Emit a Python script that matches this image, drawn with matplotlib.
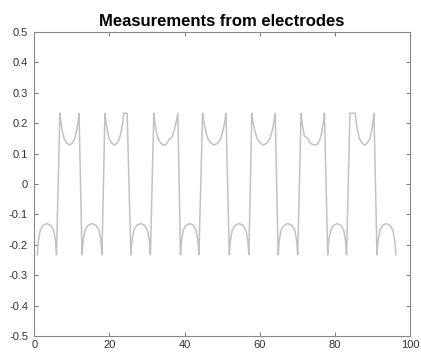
import matplotlib
matplotlib.use("Agg")
from matplotlib import pyplot as plt

# Measured signal, one line per half cycle (x = electrode position, y = value)
x_neg1 = [0.8, 1.06, 1.57, 2.33, 3.35, 4.37, 5.14, 5.65, 5.9]
y_neg1 = [-0.233, -0.188, -0.152, -0.136, -0.13, -0.136, -0.152, -0.188, -0.233]
x_pos1 = [6.8, 7.06, 7.41, 7.92, 8.59, 9.35, 10.12, 10.78, 11.29, 11.65, 11.9]
y_pos1 = [0.233, 0.205, 0.178, 0.15, 0.135, 0.128, 0.135, 0.15, 0.178, 0.205, 0.233]
x_neg2 = [12.7, 12.97, 13.5, 14.29, 15.35, 16.41, 17.21, 17.74, 18.0]
y_neg2 = [-0.233, -0.188, -0.152, -0.136, -0.13, -0.136, -0.152, -0.188, -0.233]
x_pos2 = [18.8, 19.05, 19.4, 19.9, 20.55, 21.3, 22.05, 22.7, 23.2, 23.55, 23.8, 24.7]
y_pos2 = [0.233, 0.205, 0.178, 0.15, 0.135, 0.128, 0.135, 0.15, 0.178, 0.205, 0.233, 0.233]
x_neg3 = [25.7, 25.96, 26.48, 27.26, 28.3, 29.34, 30.12, 30.64, 30.9]
y_neg3 = [-0.233, -0.188, -0.152, -0.136, -0.13, -0.136, -0.152, -0.188, -0.233]
x_pos3 = [31.8, 32.1, 32.5, 33.0, 33.6, 34.3, 35.0, 35.5, 35.9, 36.4, 36.9, 37.4, 37.8, 38.2]
y_pos3 = [0.233, 0.2, 0.17, 0.148, 0.135, 0.128, 0.13, 0.138, 0.148, 0.15, 0.162, 0.185, 0.205, 0.233]
x_neg4 = [38.9, 39.15, 39.64, 40.37, 41.35, 42.33, 43.07, 43.56, 43.8]
y_neg4 = [-0.233, -0.188, -0.152, -0.136, -0.13, -0.136, -0.152, -0.188, -0.233]
x_pos4 = [44.8, 45.11, 45.54, 46.16, 46.97, 47.9, 48.83, 49.64, 50.26, 50.69, 51.0]
y_pos4 = [0.233, 0.205, 0.178, 0.15, 0.135, 0.128, 0.135, 0.15, 0.178, 0.205, 0.233]
x_neg5 = [51.9, 52.16, 52.68, 53.46, 54.5, 55.54, 56.32, 56.84, 57.1]
y_neg5 = [-0.233, -0.188, -0.152, -0.136, -0.13, -0.136, -0.152, -0.188, -0.233]
x_pos5 = [57.9, 58.21, 58.64, 59.26, 60.07, 61.0, 61.93, 62.74, 63.36, 63.79, 64.1]
y_pos5 = [0.233, 0.205, 0.178, 0.15, 0.135, 0.128, 0.135, 0.15, 0.178, 0.205, 0.233]
x_neg6 = [64.9, 65.16, 65.68, 66.46, 67.5, 68.54, 69.32, 69.84, 70.1]
y_neg6 = [-0.233, -0.188, -0.152, -0.136, -0.13, -0.136, -0.152, -0.188, -0.233]
x_pos6 = [71.0, 71.3, 71.6, 71.9, 72.4, 72.9, 73.3, 73.9, 74.6, 75.2, 75.7, 76.1, 76.5, 76.9, 77.2]
y_pos6 = [0.233, 0.2, 0.175, 0.158, 0.153, 0.148, 0.138, 0.131, 0.128, 0.13, 0.138, 0.15, 0.17, 0.198, 0.233]
x_neg7 = [78.1, 78.35, 78.85, 79.6, 80.6, 81.6, 82.35, 82.85, 83.1]
y_neg7 = [-0.233, -0.188, -0.152, -0.136, -0.13, -0.136, -0.152, -0.188, -0.233]
x_pos7 = [84.0, 85.4, 85.65, 86.0, 86.5, 87.15, 87.9, 88.65, 89.3, 89.8, 90.15, 90.4]
y_pos7 = [0.233, 0.233, 0.205, 0.178, 0.15, 0.135, 0.128, 0.135, 0.15, 0.178, 0.205, 0.233]
x_neg8 = [91.2, 91.45, 91.96, 92.72, 93.7, 94.68, 95.44, 95.95, 96.2]
y_neg8 = [-0.233, -0.188, -0.152, -0.136, -0.13, -0.136, -0.152, -0.188, -0.233]

x = (x_neg1 + x_pos1 + x_neg2 + x_pos2 + x_neg3 + x_pos3 + x_neg4 + x_pos4
     + x_neg5 + x_pos5 + x_neg6 + x_pos6 + x_neg7 + x_pos7 + x_neg8)
y = (y_neg1 + y_pos1 + y_neg2 + y_pos2 + y_neg3 + y_pos3 + y_neg4 + y_pos4
     + y_neg5 + y_pos5 + y_neg6 + y_pos6 + y_neg7 + y_pos7 + y_neg8)

xticks = [0, 20, 40, 60, 80, 100]
yticks = [-0.5, -0.4, -0.3, -0.2, -0.1, 0, 0.1, 0.2, 0.3, 0.4, 0.5]
ytick_labels = ["-0.5", "-0.4", "-0.3", "-0.2", "-0.1", "0", "0.1", "0.2", "0.3", "0.4", "0.5"]

plt.rcParams['font.family'] = ['Liberation Sans', 'DejaVu Sans']
plt.rcParams['axes.unicode_minus'] = False

fig = plt.figure(figsize=(4.21, 3.56), dpi=100)
ax = fig.add_axes([0.0815, 0.0562, 0.8925, 0.8538])

ax.plot(x, y, color='#c2c2c2', linewidth=1.1)

ax.set_xlim(0, 100)
ax.set_ylim(-0.5, 0.5)
ax.set_xticks(xticks)
ax.set_yticks(yticks)
ax.set_yticklabels(ytick_labels)

ax.tick_params(direction='in', length=3, width=0.7, color='#777777',
               labelsize=8, labelcolor='#333333',
               top=True, right=True)
ax.tick_params(axis='y', pad=4.5)
ax.tick_params(axis='x', pad=3)
for s in ax.spines.values():
    s.set_color('#888888')
    s.set_linewidth(0.8)

ax.set_title('Measurements from electrodes', fontsize=12, fontweight='bold', pad=4)

fig.savefig('out.png', dpi=100)
